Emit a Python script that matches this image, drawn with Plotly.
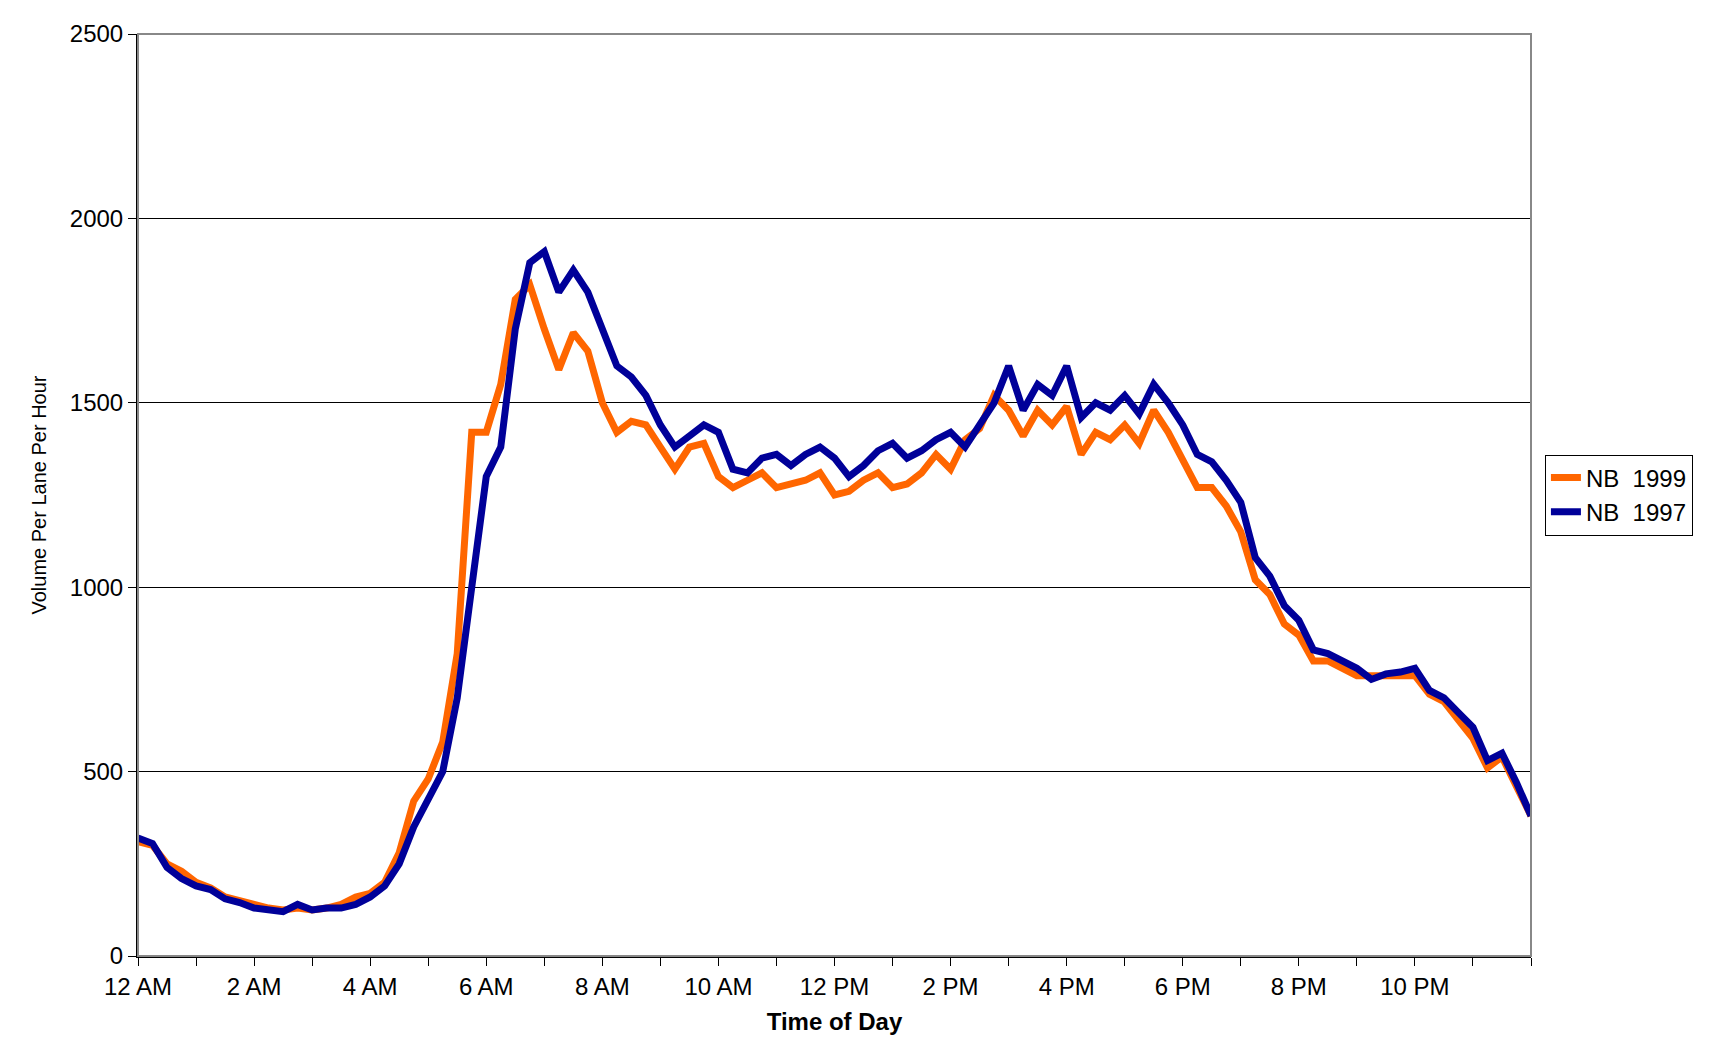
import plotly.graph_objects as go

hours = [i * 0.25 for i in range(97)]
nb1997 = [320,305,240,210,190,180,155,145,130,125,120,140,125,130,130,140,
          160,190,250,350,430,500,700,1000,1300,1380,1700,1880,1910,1800,1860,1800,
          1700,1600,1570,1520,1440,1380,1410,1440,1420,1320,1310,1350,1360,1330,1360,1380,
          1350,1300,1330,1370,1390,1350,1370,1400,1420,1380,1440,1500,1600,1480,1550,1520,
          1600,1460,1500,1480,1520,1470,1550,1500,1440,1360,1340,1290,1230,1080,1030,950,
          910,830,820,800,780,750,765,770,780,720,700,660,620,530,550,470,380]
nb1999 = [310,300,250,230,200,185,160,150,140,130,125,130,125,130,140,160,
          170,200,280,420,480,580,820,1420,1420,1550,1780,1820,1700,1590,1690,1640,
          1500,1420,1450,1440,1380,1320,1380,1390,1300,1270,1290,1310,1270,1280,1290,1310,
          1250,1260,1290,1310,1270,1280,1310,1360,1320,1400,1430,1520,1480,1410,1480,1440,
          1490,1360,1420,1400,1440,1390,1480,1420,1340,1270,1270,1220,1150,1020,980,900,
          870,800,800,780,760,760,760,760,760,710,690,640,590,510,540,460,380]
tick_vals = list(range(0, 24, 2))
tick_text = ["12 AM","2 AM","4 AM","6 AM","8 AM","10 AM","12 PM","2 PM","4 PM","6 PM","8 PM","10 PM"]

fig = go.Figure()
fig.add_trace(go.Scatter(x=hours, y=nb1999, mode="lines", name="NB  1999",
                         line=dict(color="#FF6600", width=7)))
fig.add_trace(go.Scatter(x=hours, y=nb1997, mode="lines", name="NB  1997",
                         line=dict(color="#000099", width=7)))
fig.update_layout(
    width=1733, height=1048, paper_bgcolor="white", plot_bgcolor="white",
    margin=dict(l=130, r=210, t=18, b=100),
    font=dict(family="Liberation Sans, Arial", size=24, color="black"),
    legend=dict(x=1.01, y=0.5, xanchor="left", yanchor="middle",
                bordercolor="black", borderwidth=1, font=dict(size=24),
                tracegroupgap=0),
    shapes=[dict(type="rect", xref="paper", yref="paper", x0=0, x1=1, y0=0, y1=1,
                 line=dict(color="#888888", width=2))],
)
fig.update_xaxes(range=[0, 24], tickvals=tick_vals, ticktext=tick_text,
                 showgrid=False, ticks="outside", ticklen=8, tickcolor="black",
                 minor=dict(ticks="outside", dtick=1, tick0=0, ticklen=8, tickcolor="black"),
                 showline=True, linecolor="black", linewidth=2,
                 title=dict(text="<b>Time of Day</b>", font=dict(size=24), standoff=14))
fig.update_yaxes(range=[0, 2500], dtick=500, showgrid=True, gridcolor="black", gridwidth=1,
                 ticks="outside", ticklen=8, tickcolor="black",
                 showline=True, linecolor="black", linewidth=2, zeroline=False,
                 title=dict(text="Volume Per Lane Per Hour", font=dict(size=20), standoff=18))
fig.write_html("out.html")
